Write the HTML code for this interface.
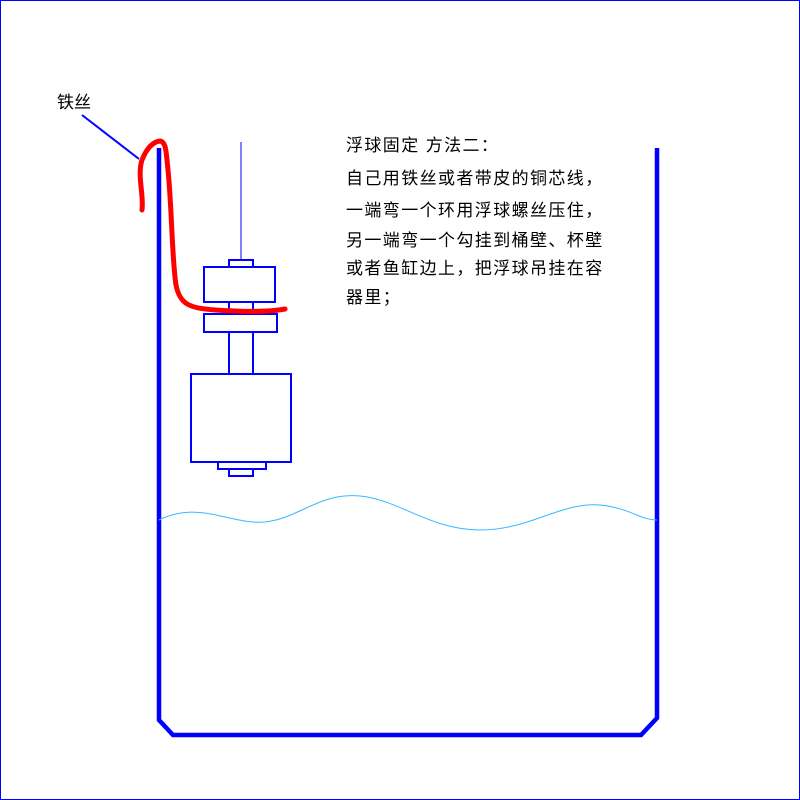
<!DOCTYPE html>
<html><head><meta charset="utf-8"><style>
html,body{margin:0;padding:0;background:#fff}
svg{display:block}
text{font-family:"Liberation Sans","Noto Sans CJK SC",sans-serif;font-size:17px;fill:#000}
.t{letter-spacing:1.4px}
</style></head><body>
<svg width="800" height="800" viewBox="0 0 800 800" xmlns="http://www.w3.org/2000/svg">
<rect x="0.5" y="0.5" width="799" height="799" fill="#fff" stroke="#0000ff" stroke-width="1"/>
<path d="M159,148 L159,720 L173,735 L641,735 L657,718 L657,148" fill="none" stroke="#0000ff" stroke-width="4.5"/>
<path d="M159,520 C200,500 230,525 265,522 C300,518 320,492 360,496 C400,500 430,530 480,530 C530,530 560,502 600,505 C630,508 640,520 657,520" fill="none" stroke="#33bbff" stroke-width="1"/>
<rect x="240" y="142" width="2" height="118" fill="#8080ff"/>
<g fill="none" stroke="#0000ff" stroke-width="2">
<rect x="229" y="260" width="24" height="7"/>
<rect x="204" y="267" width="71" height="35"/>
<rect x="229" y="302" width="24" height="12"/>
<rect x="204" y="314" width="73" height="18"/>
<rect x="229" y="332" width="24" height="42"/>
<rect x="191" y="374" width="100" height="88"/>
<rect x="218" y="462" width="48" height="7"/>
<rect x="229" y="469" width="24" height="7"/>
</g>
<line x1="82" y1="115" x2="139" y2="159" stroke="#0000ff" stroke-width="2"/>
<path d="M142,210 C144,195 137,175 142,160 C146,150 152,142 160,141 C166,142 166,150 168,170 C172,210 172,260 176,285 C180,305 190,308 215,310 C245,312 270,312 285,309" fill="none" stroke="#ff0000" stroke-width="5" stroke-linecap="round"/>
<text x="57" y="108">铁丝</text>
<text class="t" x="346" y="151">浮球固定 方法二：</text>
<text class="t" x="346" y="184">自己用铁丝或者带皮的铜芯线，</text>
<text class="t" x="346" y="216">一端弯一个环用浮球螺丝压住，</text>
<text class="t" x="346" y="246">另一端弯一个勾挂到桶壁、杯壁</text>
<text class="t" x="346" y="274">或者鱼缸边上，把浮球吊挂在容</text>
<text class="t" x="346" y="303">器里；</text>
</svg>
</body></html>
